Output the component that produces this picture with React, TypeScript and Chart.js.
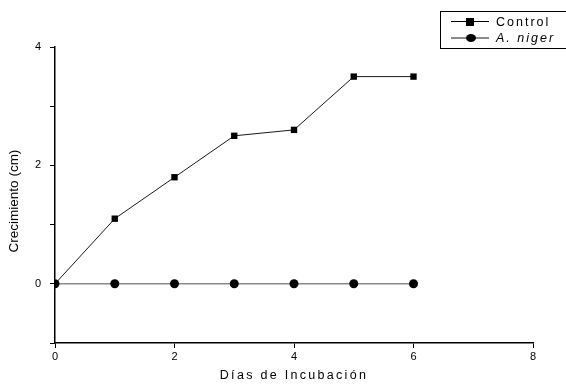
import React, { useEffect, useRef } from "react";
import { Chart, registerables } from "chart.js";

Chart.register(...registerables);

const days = [0, 1, 2, 3, 4, 5, 6];
const controlValues = [0, 1.1, 1.8, 2.5, 2.6, 3.5, 3.5];
const nigerValues = [0, 0, 0, 0, 0, 0, 0];
const xTitle = "Días de Incubación";
const yTitle = "Crecimiento (cm)";
const seriesNames = ["Control", "A. niger"];

const FONT = "'Liberation Sans', Arial, sans-serif";

export default function App() {
  const ref = useRef<HTMLCanvasElement>(null);

  useEffect(() => {
    const ctx = ref.current!.getContext("2d")!;
    const chart = new Chart(ctx, {
      type: "line",
      data: {
        datasets: [
          {
            label: seriesNames[1],
            data: days.map((d, i) => ({ x: d, y: nigerValues[i] })),
            borderColor: "#8a8a8a",
            borderWidth: 1.5,
            pointStyle: "circle",
            pointRadius: 4.5,
            pointBackgroundColor: "#000",
            pointBorderColor: "#000",
            pointBorderWidth: 0,
            tension: 0,
          },
          {
            label: seriesNames[0],
            data: days.map((d, i) => ({ x: d, y: controlValues[i] })),
            borderColor: "#1a1a1a",
            borderWidth: 1,
            pointStyle: "rect",
            pointRadius: 4.5,
            pointBackgroundColor: "#000",
            pointBorderColor: "#000",
            pointBorderWidth: 0,
            tension: 0,
          },
        ],
      },
      options: {
        animation: false,
        responsive: false,
        maintainAspectRatio: false,
        layout: { padding: { top: 47, right: 33, left: 0, bottom: 0 } },
        plugins: {
          legend: { display: false },
          tooltip: { enabled: false },
        },
        scales: {
          x: {
            type: "linear",
            min: 0,
            max: 8,
            afterFit: (s: any) => {
              s.height = 41;
            },
            ticks: {
              stepSize: 2,
              color: "#000",
              padding: 2,
              font: { family: FONT, size: 11 },
              maxRotation: 0,
            },
            grid: {
              display: true,
              drawOnChartArea: false,
              drawTicks: true,
              tickLength: 5,
              color: "#000",
              lineWidth: 1,
            },
            border: { display: true, color: "#000", width: 1.5 },
          },
          y: {
            type: "linear",
            min: -1,
            max: 4,
            afterFit: (s: any) => {
              s.width = 55;
            },
            ticks: {
              stepSize: 1,
              color: "#000",
              padding: 9,
              font: { family: FONT, size: 11 },
              callback: (v: any) => (Number(v) % 2 === 0 ? String(v) : ""),
            },
            grid: {
              display: true,
              drawOnChartArea: false,
              drawTicks: true,
              tickLength: 5,
              color: "#000",
              lineWidth: 1,
            },
            border: { display: true, color: "#000", width: 1.5 },
          },
        },
      },
    });
    return () => chart.destroy();
  }, []);

  const legendRow = (name: string, italic: boolean, lineColor: string, round: boolean) => (
    <div style={{ display: "flex", alignItems: "center", height: 16 }}>
      <div style={{ position: "relative", width: 38, height: 10, marginLeft: 10 }}>
        <div
          style={{
            position: "absolute",
            left: 0,
            right: 0,
            top: 4,
            height: round ? 1.5 : 1,
            background: lineColor,
          }}
        />
        <div
          style={{
            position: "absolute",
            left: 15,
            top: round ? 1 : 1,
            width: round ? 10 : 8,
            height: 8,
            borderRadius: round ? "50%" : 0,
            background: "#000",
          }}
        />
      </div>
      <span
        style={{
          marginLeft: 7,
          fontFamily: FONT,
          fontSize: 12.5,
          letterSpacing: "2px",
          fontStyle: italic ? "italic" : "normal",
          color: "#000",
          lineHeight: "16px",
        }}
      >
        {name}
      </span>
    </div>
  );

  return (
    <div
      style={{
        position: "fixed",
        left: 0,
        top: 0,
        width: 566,
        height: 384,
        background: "#fff",
        overflow: "hidden",
      }}
    >
      <canvas ref={ref} width={566} height={384} style={{ display: "block" }} />
      <div
        style={{
          position: "absolute",
          left: 440,
          top: 11,
          width: 170,
          height: 34,
          border: "1px solid #000",
          paddingTop: 2,
          boxSizing: "content-box",
        }}
      >
        {legendRow(seriesNames[0], false, "#000", false)}
        {legendRow(seriesNames[1], true, "#8a8a8a", true)}
      </div>
      <div
        style={{
          position: "absolute",
          left: 14 - 80,
          top: 201 - 9,
          width: 160,
          height: 18,
          lineHeight: "18px",
          textAlign: "center",
          transform: "rotate(-90deg)",
          transformOrigin: "50% 50%",
          fontFamily: FONT,
          fontSize: 13.5,
          color: "#000",
          whiteSpace: "nowrap",
        }}
      >
        {yTitle}
      </div>
      <div
        style={{
          position: "absolute",
          left: 55,
          width: 478,
          top: 368,
          textAlign: "center",
          fontFamily: FONT,
          fontSize: 12.5,
          letterSpacing: "2.3px",
          color: "#000",
        }}
      >
        {xTitle}
      </div>
    </div>
  );
}
